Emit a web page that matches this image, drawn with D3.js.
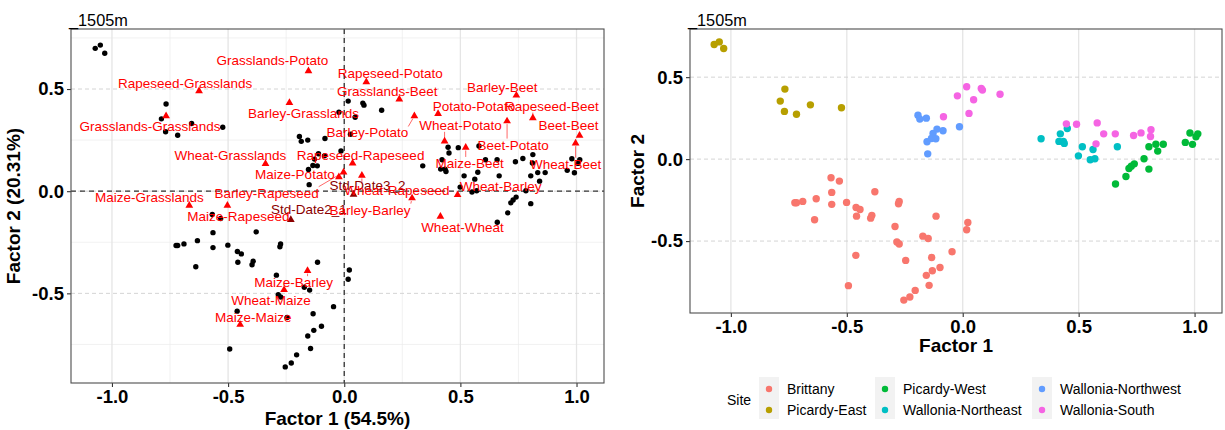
<!DOCTYPE html>
<html><head><meta charset="utf-8">
<script src="https://cdn.jsdelivr.net/npm/d3@7"></script>
<style>
body{margin:0;background:#fff;}
svg{display:block;font-family:"Liberation Sans",Arial,sans-serif;}
</style></head>
<body><svg id="c" width="1225" height="430"></svg>
<script>
// ---------------- DATA ----------------
const siteNames = ["Brittany","Picardy-East","Picardy-West","Wallonia-Northeast","Wallonia-Northwest","Wallonia-South"];
const brittany = [[-0.568,-0.114],[-0.532,-0.134],[-0.565,-0.203],[-0.379,-0.199],[-0.724,-0.266],[-0.717,-0.266],[-0.690,-0.258],[-0.632,-0.242],[-0.565,-0.276],[-0.501,-0.264],[-0.460,-0.295],[-0.443,-0.307],[-0.458,-0.348],[-0.392,-0.343],[-0.397,-0.360],[-0.639,-0.370],[-0.274,-0.258],[-0.277,-0.272],[-0.292,-0.411],[-0.284,-0.506],[-0.274,-0.518],[-0.461,-0.587],[-0.246,-0.618],[-0.493,-0.772],[-0.205,-0.801],[-0.228,-0.841],[-0.254,-0.860],[-0.115,-0.348],[0.022,-0.386],[0.017,-0.431],[-0.172,-0.470],[-0.149,-0.484],[-0.046,-0.565],[-0.134,-0.600],[-0.098,-0.661],[-0.131,-0.681],[-0.157,-0.709],[-0.145,-0.770]];
const picardyEast = [[-1.072,0.699],[-1.050,0.715],[-1.031,0.675],[-0.767,0.427],[-0.787,0.354],[-0.769,0.291],[-0.717,0.274],[-0.657,0.331],[-0.523,0.313]];
const picardyWest = [[0.659,-0.152],[0.704,-0.106],[0.717,-0.057],[0.727,-0.043],[0.740,-0.029],[0.782,0.002],[0.803,-0.061],[0.803,0.075],[0.833,0.091],[0.865,0.091],[0.841,0.049],[0.960,0.102],[0.980,0.159],[0.991,0.090],[1.006,0.136],[1.014,0.154]];
const walloniaNortheast = [[0.338,0.124],[0.421,0.154],[0.415,0.108],[0.434,0.108],[0.438,0.096],[0.451,0.187],[0.516,0.075],[0.499,0.020],[0.562,0.059],[0.550,-0.004],[0.570,0.002],[0.667,0.075]];
const walloniaNorthwest = [[-0.193,0.268],[-0.185,0.244],[-0.157,0.250],[-0.111,0.183],[-0.128,0.157],[-0.085,0.173],[-0.154,0.106],[-0.135,0.126],[-0.116,0.124],[-0.151,0.032],[-0.014,0.197]];
const walloniaSouth = [[-0.083,0.258],[-0.023,0.386],[0.017,0.441],[0.047,0.362],[0.027,0.279],[0.080,0.431],[0.085,0.421],[0.161,0.396],[0.447,0.215],[0.491,0.213],[0.580,0.221],[0.608,0.154],[0.658,0.154],[0.737,0.144],[0.769,0.160],[0.812,0.179],[0.810,0.138],[0.575,0.093]];
const siteScores = [brittany, picardyEast, picardyWest, walloniaNortheast, walloniaNorthwest, walloniaSouth];

const varNames = ["Grasslands-Potato","Rapeseed-Potato","Grasslands-Beet","Rapeseed-Grasslands","Barley-Beet","Potato-Potato","Rapeseed-Beet","Barley-Grasslands","Grasslands-Grasslands","Barley-Potato","Wheat-Potato","Beet-Beet","Beet-Potato","Wheat-Grasslands","Rapeseed-Rapeseed","Maize-Beet","Wheat-Beet","Maize-Potato","Std-Date3_2","Wheat-Rapeseed","Wheat-Barley","Maize-Grasslands","Barley-Rapeseed","Std-Date2_1","Barley-Barley","Maize-Rapeseed","Wheat-Wheat","Maize-Barley","Wheat-Maize","Maize-Maize"];
const varF1 = [-0.154,0.095,0.237,-0.625,0.741,0.404,0.812,-0.236,-0.767,0.302,0.432,1.013,0.701,-0.339,0.036,0.523,0.996,-0.023,0.040,0.076,0.488,-0.667,-0.003,-0.230,0.292,-0.503,0.414,-0.158,-0.259,-0.448];
const varF2 = [0.588,0.534,0.450,0.490,0.469,0.379,0.358,0.433,0.368,0.368,0.244,0.273,0.343,0.134,0.137,0.214,0.235,0.069,-0.016,0.077,-0.018,-0.070,0.093,-0.140,-0.034,-0.070,-0.124,-0.389,-0.483,-0.653];
const varIsDate = [0,0,0,0,0,0,0,0,0,0,0,0,0,0,0,0,0,0,1,0,0,0,0,1,0,0,0,0,0,0];

const xTicks = [-1.0,-0.5,0.0,0.5,1.0];
const yTicks = [-0.5,0.0,0.5];
const xMinor = [-0.75,-0.25,0.25,0.75];
const yMinor = [-0.75,-0.25,0.25,0.75];
const panelTitle = "_1505m";
const leftXTitle = "Factor 1 (54.5%)", leftYTitle = "Factor 2 (20.31%)";
const rightXTitle = "Factor 1", rightYTitle = "Factor 2";
const legendTitle = "Site";

// layout: repelled label offsets (px) relative to each triangle
const labelNudge = [[-36,-11],[24,-9],[-12,-8],[-14,-8],[-14,-8],[36,-7],[19,-12],[14,11],[-16,11],[-47,17],[16,-16],[-11,-10],[6,24],[-35,-8],[8,-8],[4,16],[-10,21],[-44,-3],[14,-9],[35,15],[43,-8],[-40,-8],[-77,21],[18,-10],[-42,12],[11,11],[22,11],[-14,12],[-13,11],[13,-7]];

// ---------------- DRAW ----------------
const palette = ["#F8766D","#B79F00","#00BA38","#00BFC4","#619CFF","#F564E3"];
const svg = d3.select("#c");
const fmt = d => d.toFixed(1);
const allPts = siteScores.flatMap((arr,i)=>arr.map(p=>({x:p[0],y:p[1],s:i})));
const vars = varNames.map((n,i)=>({name:n,x:varF1[i],y:varF2[i],date:varIsDate[i],nud:labelNudge[i]}));

function expand(ext){const r=ext[1]-ext[0];return [ext[0]-0.05*r, ext[1]+0.05*r];}

function panel(opts){
  const {x0,x1,y0,y1,xs,ys,minor} = opts;
  const g = svg.append("g");
  // minor grid
  if(minor){
    g.selectAll(".vm").data(xMinor).join("line").attr("x1",d=>xs(d)).attr("x2",d=>xs(d)).attr("y1",y0).attr("y2",y1).attr("stroke","#EBEBEB").attr("stroke-width",0.7);
    g.selectAll(".hm").data(yMinor).join("line").attr("y1",d=>ys(d)).attr("y2",d=>ys(d)).attr("x1",x0).attr("x2",x1).attr("stroke","#EBEBEB").attr("stroke-width",0.7);
  }
  g.selectAll(".vM").data(xTicks).join("line").attr("x1",d=>xs(d)).attr("x2",d=>xs(d)).attr("y1",y0).attr("y2",y1).attr("stroke","#E5E5E5").attr("stroke-width",1.3);
  g.selectAll(".hM").data(yTicks).join("line").attr("y1",d=>ys(d)).attr("y2",d=>ys(d)).attr("x1",x0).attr("x2",x1).attr("stroke","#D4D4D4").attr("stroke-width",1).attr("stroke-dasharray","4,3");
  return g;
}
function axes(opts){
  const {x0,x1,y0,y1,xs,ys,xTitle,yTitle,xTitleY,yTitleX} = opts;
  const ax = svg.append("g").attr("transform",`translate(0,${y1})`).call(d3.axisBottom(xs).tickValues(xTicks).tickFormat(fmt).tickSize(4).tickPadding(3));
  const ay = svg.append("g").attr("transform",`translate(${x0},0)`).call(d3.axisLeft(ys).tickValues(yTicks).tickFormat(fmt).tickSize(4).tickPadding(3));
  [ax,ay].forEach(a=>{a.select(".domain").remove();a.selectAll(".tick line").attr("stroke","#333").attr("stroke-width",1.1);
    a.selectAll(".tick text").attr("fill","#000").attr("font-size",18.5).attr("font-weight","bold").attr("font-family","Liberation Sans, Arial, sans-serif");});
  svg.append("rect").attr("x",x0).attr("y",y0).attr("width",x1-x0).attr("height",y1-y0).attr("fill","none").attr("stroke","#4D4D4D").attr("stroke-width",1.1);
  svg.append("text").attr("x",(x0+x1)/2).attr("y",xTitleY).attr("text-anchor","middle").attr("font-size",19).attr("font-weight","bold").text(xTitle);
  svg.append("text").attr("transform",`translate(${yTitleX},${(y0+y1)/2}) rotate(-90)`).attr("text-anchor","middle").attr("font-size",19).attr("font-weight","bold").text(yTitle);
  svg.append("text").attr("x",x0-2).attr("y",26).attr("font-size",16.3).text(panelTitle);
}

// ---- Left panel ----
const L = {x0:71,x1:604,y0:29,y1:383};
const lxExt = expand(d3.extent([...allPts.map(d=>d.x),...varF1]));
const lyExt = expand(d3.extent([...allPts.map(d=>d.y),...varF2]));
L.xs = d3.scaleLinear().domain(lxExt).range([L.x0,L.x1]);
L.ys = d3.scaleLinear().domain(lyExt).range([L.y1,L.y0]);
L.minor = true;
const lg = panel(L);
lg.append("line").attr("x1",L.xs(0)).attr("x2",L.xs(0)).attr("y1",L.y0).attr("y2",L.y1).attr("stroke","#333").attr("stroke-width",1.3).attr("stroke-dasharray","5,4");
lg.append("line").attr("y1",L.ys(0)).attr("y2",L.ys(0)).attr("x1",L.x0).attr("x2",L.x1).attr("stroke","#333").attr("stroke-width",1.3).attr("stroke-dasharray","5,4");
lg.selectAll(".pt").data(allPts).join("circle").attr("cx",d=>L.xs(d.x)).attr("cy",d=>L.ys(d.y)).attr("r",2.7).attr("fill","#000");
const tri = d3.symbol().type(d3.symbolTriangle).size(26);
const colOf = d => d.date ? "#8B0000" : "#FF0000";
// labels first to measure, segments under
const segG = lg.append("g");
lg.selectAll(".tri").data(vars).join("path").attr("d",tri).attr("transform",d=>`translate(${L.xs(d.x)},${L.ys(d.y)})`).attr("fill",colOf);
const labs = lg.selectAll(".lab").data(vars).join("text")
  .attr("x",d=>L.xs(d.x)+d.nud[0]).attr("y",d=>L.ys(d.y)+d.nud[1])
  .attr("text-anchor","middle").attr("dominant-baseline","central")
  .attr("font-size",13.5).attr("fill",colOf).text(d=>d.name);
labs.each(function(d){
  const b=this.getBBox(); const px=L.xs(d.x), py=L.ys(d.y);
  const cx=Math.max(b.x,Math.min(px,b.x+b.width)), cy=Math.max(b.y+1,Math.min(py,b.y+b.height-1));
  const dist=Math.hypot(px-cx,py-cy);
  if(dist>5){const k=(dist-3)/dist;
    segG.append("line").attr("x1",cx).attr("y1",cy).attr("x2",cx+(px-cx)*k).attr("y2",cy+(py-cy)*k).attr("stroke",colOf(d)).attr("stroke-width",0.6);}
});
axes({...L,xTitle:leftXTitle,yTitle:leftYTitle,xTitleY:425,yTitleX:20});

// ---- Right panel ----
const R = {x0:690,x1:1222,y0:29,y1:313};
R.xs = d3.scaleLinear().domain(expand(d3.extent(allPts,d=>d.x))).range([R.x0,R.x1]);
R.ys = d3.scaleLinear().domain(expand(d3.extent(allPts,d=>d.y))).range([R.y1,R.y0]);
const rg = panel(R);
rg.selectAll(".pt").data(allPts).join("circle").attr("cx",d=>R.xs(d.x)).attr("cy",d=>R.ys(d.y)).attr("r",3.7).attr("fill",d=>palette[d.s]);
axes({...R,xTitle:rightXTitle,yTitle:rightYTitle,xTitleY:352,yTitleX:644});

// ---- Legend ----
const leg = svg.append("g");
leg.append("text").attr("x",727).attr("y",400).attr("dominant-baseline","central").attr("font-size",14).text(legendTitle);
const colX = [759,875,1032];
siteNames.forEach((s,i)=>{
  const c=Math.floor(i/2), r=i%2;
  if(r===0) leg.append("rect").attr("x",colX[c]).attr("y",377).attr("width",20).attr("height",42).attr("fill","#F2F2F2");
  const cy = 389+r*21;
  leg.append("circle").attr("cx",colX[c]+10).attr("cy",cy).attr("r",3.2).attr("fill",palette[i]);
  leg.append("text").attr("x",colX[c]+28).attr("y",cy).attr("dominant-baseline","central").attr("font-size",14).text(s);
});
</script></body></html>
